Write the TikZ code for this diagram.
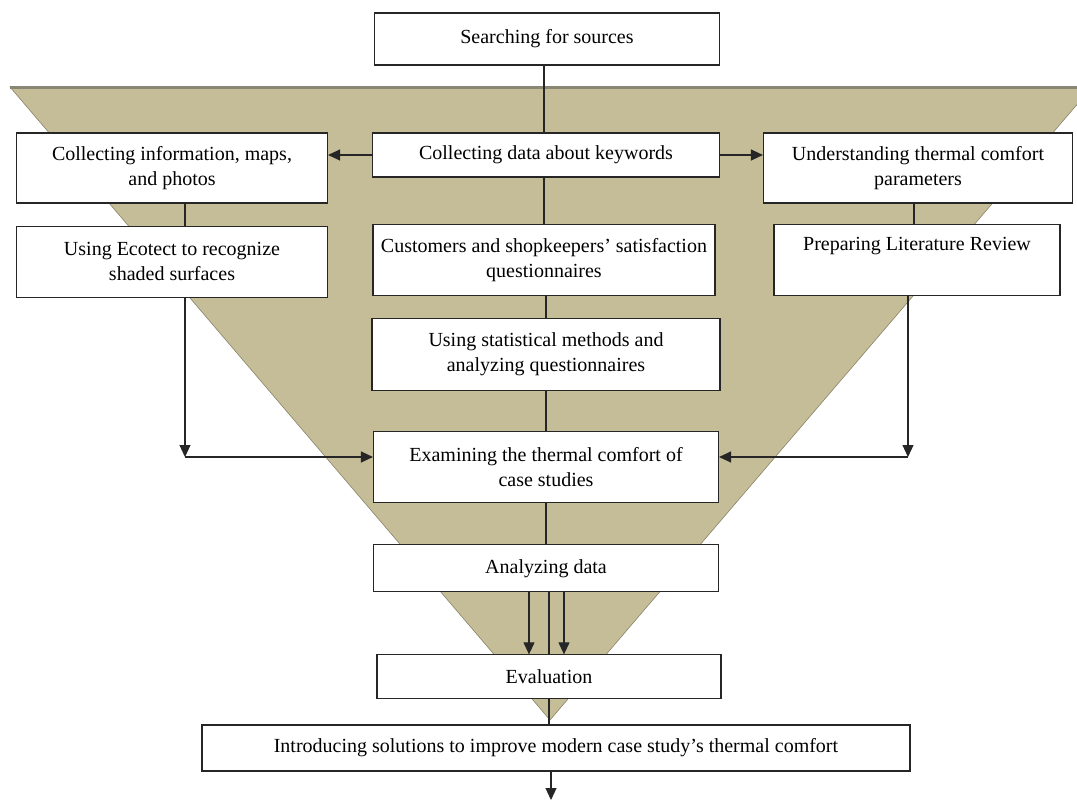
\documentclass[tikz,border=0pt]{standalone}
\usepackage{fontspec}
\setmainfont{Liberation Serif}
\usetikzlibrary{positioning,arrows.meta}

\definecolor{funneltan}{HTML}{C4BD97}
\definecolor{rimgray}{HTML}{8A8674}

\tikzset{
  stepbox/.style={draw=black!85, fill=white, line width=1.1pt, align=center,
    font=\fontsize{20}{25}\selectfont, inner sep=2pt},
  link/.style={draw=black!85, line width=1.1pt},
  flow/.style={link, -{Triangle[length=12pt,width=11pt]}},
}

\begin{document}
\begin{tikzpicture}[x=1pt,y=-1pt]
  \useasboundingbox (0,0) rectangle (1077,805);

  % funnel behind the boxes
  \begin{scope}
    \clip (0,0) rectangle (1077,805);
    \fill[funneltan, draw=funneltan!70!black, line width=0.6pt]
      (10,87) -- (1092,87) -- (550,720) -- cycle;
    \draw[rimgray, line width=3pt] (10,88) -- (1092,88);
  \end{scope}

  \node[stepbox, minimum width=345pt, minimum height=52pt] (search) at (547,39) {Searching for sources};
  \node[stepbox, minimum width=347pt, minimum height=44pt] (keywords) at (546,155) {Collecting data about keywords};
  \node[stepbox, minimum width=311pt, minimum height=70pt] (info) at (172,168) {Collecting information, maps,\\and photos};
  \node[stepbox, minimum width=309pt, minimum height=70pt] (thermal) at (918,168) {Understanding thermal comfort\\parameters};

  \node[stepbox, minimum width=311pt, minimum height=71pt, below=22pt of info] (ecotect) {Using Ecotect to recognize\\shaded surfaces};
  \node[stepbox, minimum width=342pt, minimum height=71pt] (survey) at (544,260) {Customers and shopkeepers’ satisfaction\\questionnaires};
  \node[stepbox, minimum width=286pt, minimum height=71pt] (review) at (917,260) {Preparing Literature Review\\\strut};

  \node[stepbox, minimum width=348pt, minimum height=72pt, below=22pt of survey, xshift=2pt] (stats) {Using statistical methods and\\analyzing questionnaires};
  \node[stepbox, minimum width=345pt, minimum height=71pt, below=40pt of stats] (examine) {Examining the thermal comfort of\\case studies};
  \node[stepbox, minimum width=345pt, minimum height=47pt, below=41pt of examine] (analyze) {Analyzing data};
  \node[stepbox, minimum width=344pt, minimum height=44pt, below=62pt of analyze, xshift=3pt] (evaluate) {Evaluation};
  \node[stepbox, minimum width=708pt, minimum height=46pt, below=25pt of evaluate, xshift=7pt] (solutions) {Introducing solutions to improve modern case study’s thermal comfort};

  \coordinate (spine) at (544,0);
  \coordinate (lturn) at (185,457);
  \coordinate (rturn) at (908,457);
  \coordinate (rside) at (914,0);
  \coordinate (out) at (551,800);

  \draw[link] (search.south -| spine) -- (keywords.north -| spine);
  \draw[flow] (keywords.west) -- (keywords.west -| info.east);
  \draw[flow] (keywords.east) -- (keywords.east -| thermal.west);
  \draw[link] (info.south -| lturn) -- (ecotect.north -| lturn);
  \draw[link] (keywords.south -| spine) -- (survey.north -| spine);
  \draw[link] (thermal.south -| rside) -- (review.north -| rside);
  \draw[link] (survey.south -| stats.north) -- (stats.north);
  \draw[link] (stats) -- (examine);
  \draw[flow] (ecotect.south -| lturn) -- (lturn);
  \draw[flow] (lturn) -- (lturn -| examine.west);
  \draw[flow] (review.south -| rturn) -- (rturn);
  \draw[flow] (rturn) -- (rturn -| examine.east);
  \draw[link] (examine) -- (analyze);
  \draw[flow] ([xshift=-17pt]analyze.south) -- ([xshift=-17pt]analyze.south |- evaluate.north);
  \draw[flow] ([xshift=18pt]analyze.south) -- ([xshift=18pt]analyze.south |- evaluate.north);
  \draw[link] (analyze.south -| evaluate.north) -- (evaluate.north);
  \draw[link] (evaluate.south) -- (evaluate.south |- solutions.north);
  \draw[flow] (solutions.south -| out) -- (out);
\end{tikzpicture}
\end{document}
